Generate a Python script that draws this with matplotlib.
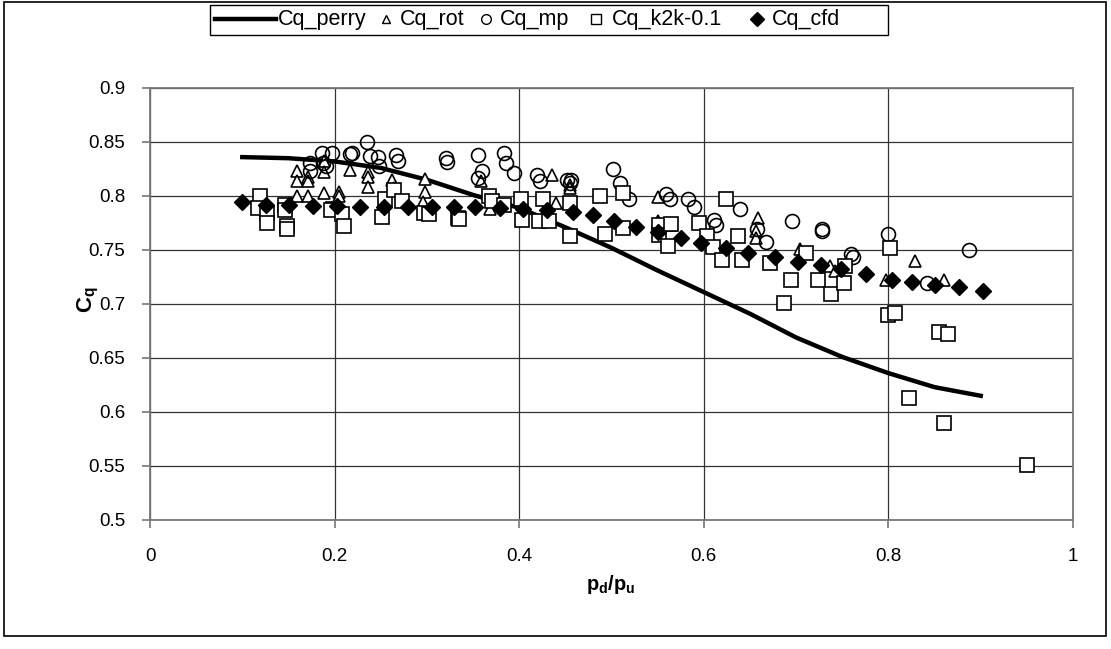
import numpy as np
import matplotlib.pyplot as plt
from matplotlib.patches import Rectangle
from matplotlib.lines import Line2D

plt.rcParams['font.family'] = ['Liberation Sans', 'DejaVu Sans']
plt.rcParams['mathtext.fontset'] = 'custom'
plt.rcParams['mathtext.rm'] = 'Liberation Sans'
plt.rcParams['mathtext.bf'] = 'Liberation Sans:bold'

# Cq_perry curve
perry_x = [0.10, 0.15, 0.20, 0.25, 0.30, 0.35, 0.40, 0.45, 0.50, 0.55,
           0.60, 0.65, 0.70, 0.75, 0.80, 0.85, 0.90]
perry_y = [0.836, 0.835, 0.832, 0.826, 0.815, 0.801, 0.789, 0.771, 0.752, 0.731,
           0.711, 0.691, 0.669, 0.651, 0.636, 0.623, 0.615]

# Cq_rot (triangles)
rot_x = [0.159, 0.159, 0.159, 0.171, 0.171, 0.171, 0.188, 0.188, 0.188, 0.205,
         0.205, 0.217, 0.236, 0.236, 0.236, 0.262, 0.264, 0.298, 0.298, 0.296,
         0.359, 0.368, 0.435, 0.440, 0.455, 0.455, 0.550, 0.550, 0.564, 0.659,
         0.657, 0.657, 0.704, 0.737, 0.742, 0.797, 0.829, 0.860]
rot_y = [0.823, 0.8135, 0.800, 0.818, 0.8135, 0.800, 0.832, 0.822, 0.803, 0.804,
         0.800, 0.824, 0.822, 0.818, 0.808, 0.815, 0.807, 0.816, 0.804, 0.794,
         0.8135, 0.788, 0.819, 0.7935, 0.8105, 0.807, 0.799, 0.7765, 0.7734, 0.780,
         0.768, 0.761, 0.751, 0.735, 0.731, 0.722, 0.740, 0.722]

# Cq_mp (circles)
mp_x = [0.173, 0.173, 0.186, 0.197, 0.191, 0.187, 0.217, 0.219, 0.235, 0.238,
        0.247, 0.248, 0.267, 0.269, 0.321, 0.322, 0.355, 0.360, 0.355, 0.383,
        0.386, 0.394, 0.419, 0.4225, 0.452, 0.456, 0.455, 0.502, 0.509, 0.519,
        0.559, 0.563, 0.583, 0.589, 0.611, 0.613, 0.639, 0.658, 0.667, 0.696,
        0.728, 0.728, 0.760, 0.762, 0.800, 0.8415, 0.887]
mp_y = [0.8305, 0.823, 0.840, 0.840, 0.828, 0.8305, 0.839, 0.840, 0.850, 0.837,
        0.836, 0.828, 0.838, 0.832, 0.835, 0.8315, 0.838, 0.823, 0.8167, 0.840,
        0.8305, 0.8213, 0.8197, 0.8142, 0.815, 0.815, 0.812, 0.825, 0.812, 0.797,
        0.802, 0.797, 0.797, 0.790, 0.778, 0.773, 0.788, 0.769, 0.757, 0.7765,
        0.768, 0.769, 0.7466, 0.7435, 0.765, 0.719, 0.7496]

# Cq_k2k-0.1 (squares)
k2k_x = [0.119, 0.117, 0.127, 0.127, 0.146, 0.146, 0.148, 0.148, 0.198, 0.196,
         0.208, 0.210, 0.251, 0.2545, 0.2645, 0.2735, 0.297, 0.3026, 0.334, 0.335,
         0.367, 0.370, 0.383, 0.402, 0.403, 0.421, 0.426, 0.432, 0.455, 0.455,
         0.488, 0.493, 0.513, 0.512, 0.551, 0.552, 0.564, 0.561, 0.595, 0.603,
         0.610, 0.624, 0.620, 0.637, 0.641, 0.672, 0.687, 0.695, 0.711, 0.724,
         0.738, 0.753, 0.752, 0.800, 0.807, 0.802, 0.822, 0.855, 0.865, 0.860,
         0.950]
k2k_y = [0.800, 0.789, 0.784, 0.775, 0.792, 0.787, 0.772, 0.769, 0.788, 0.787,
         0.783, 0.772, 0.781, 0.797, 0.806, 0.795, 0.784, 0.783, 0.780, 0.779,
         0.800, 0.795, 0.792, 0.797, 0.778, 0.7765, 0.797, 0.7765, 0.7935, 0.763,
         0.800, 0.765, 0.803, 0.770, 0.773, 0.764, 0.774, 0.754, 0.775, 0.763,
         0.753, 0.797, 0.741, 0.763, 0.741, 0.738, 0.701, 0.722, 0.747, 0.722,
         0.709, 0.7355, 0.719, 0.690, 0.692, 0.752, 0.613, 0.674, 0.6725, 0.590,
         0.551]

# Cq_cfd (filled diamonds)
cfd_x = [0.100, 0.126, 0.151, 0.177, 0.203, 0.2275, 0.253, 0.280, 0.305, 0.329,
         0.352, 0.379, 0.4045, 0.430, 0.458, 0.480, 0.503, 0.527, 0.550, 0.575,
         0.597, 0.624, 0.648, 0.677, 0.7024, 0.727, 0.749, 0.776, 0.8035, 0.826,
         0.8505, 0.876, 0.902]
cfd_y = [0.794, 0.792, 0.792, 0.791, 0.791, 0.790, 0.790, 0.790, 0.790, 0.790,
         0.790, 0.789, 0.788, 0.787, 0.785, 0.782, 0.777, 0.771, 0.767, 0.761,
         0.7565, 0.752, 0.747, 0.7435, 0.7385, 0.736, 0.7324, 0.728, 0.7225, 0.720,
         0.718, 0.7157, 0.712]

W, H = 1111, 649
fig = plt.figure(figsize=(W / 100, H / 100), dpi=100)


def fx(px):
    return px / W


def fy(py):
    return 1 - py / H


ax = fig.add_axes([fx(150), fy(520), fx(1073 - 150), (520 - 88) / H])

ax.plot(perry_x, perry_y, color='black', lw=3.2, zorder=3)
ax.plot(rot_x, rot_y, ls='none', marker='^', ms=9, mfc='white', mec='black',
        mew=1.2, zorder=4)
ax.plot(mp_x, mp_y, ls='none', marker='o', ms=10, mfc='none', mec='black',
        mew=1.2, zorder=4)
ax.plot(k2k_x, k2k_y, ls='none', marker='s', ms=10, mfc='white', mec='black',
        mew=1.2, zorder=4)
ax.plot(cfd_x, cfd_y, ls='none', marker='D', ms=8.5, mfc='black', mec='black',
        zorder=5)

ax.set_xlim(0, 1)
ax.set_ylim(0.5, 0.9)
ax.set_xticks(np.arange(0, 1.01, 0.2))
ax.set_xticklabels(['0', '0.2', '0.4', '0.6', '0.8', '1'])
ax.set_yticks(np.arange(0.5, 0.901, 0.05))
ax.set_yticklabels(['0.5', '0.55', '0.6', '0.65', '0.7', '0.75', '0.8', '0.85', '0.9'])
ax.grid(True, color='#333333', lw=0.9)
ax.set_axisbelow(True)
ax.tick_params(labelsize=13.5, direction='out', length=6, color='#777777', width=1.2)
ax.tick_params(axis='x', pad=14)
ax.tick_params(axis='y', pad=12)
for s in ax.spines.values():
    s.set_color('#777777')
    s.set_linewidth(1.3)

fig.text(fx(611), fy(585), r'$\mathbf{p_d/p_u}$', fontsize=14.5,
         ha='center', va='center')
fig.text(fx(88), fy(300), r'$\mathbf{C_q}$', fontsize=16, rotation=90,
         ha='center', va='center')

# legend drawn by hand to keep Excel-like spacing
fig.patches.append(Rectangle((fx(210), fy(35)), fx(888 - 210), (35 - 5) / H,
                             transform=fig.transFigure, fill=True, facecolor='white',
                             edgecolor='black', lw=1.0, zorder=10))
ly = fy(19)
fig.add_artist(Line2D([fx(215), fx(276)], [ly, ly], color='black', lw=3.2,
                      transform=fig.transFigure, zorder=11))
marker_specs = [('^', 6, 'white', 386), ('o', 7, 'white', 486),
                ('s', 7, 'white', 596), ('D', 7, 'black', 757)]
for m, size, face, px in marker_specs:
    fig.add_artist(Line2D([fx(px)], [ly], ls='none', marker=m, ms=size, mfc=face,
                          mec='black', mew=1.0, transform=fig.transFigure, zorder=11))
legend_names = ['Cq_perry', 'Cq_rot', 'Cq_mp', 'Cq_k2k-0.1', 'Cq_cfd']
legend_pos = [278, 400, 500, 612, 772]
for name, px in zip(legend_names, legend_pos):
    fig.text(fx(px), ly, name, fontsize=15.5, ha='left', va='center', zorder=11)

fig.patches.append(Rectangle((fx(4), fy(636)), fx(1106 - 4), (636 - 2) / H,
                             transform=fig.transFigure, fill=False,
                             edgecolor='black', lw=1.2))

fig.savefig('out.png', dpi=100)
